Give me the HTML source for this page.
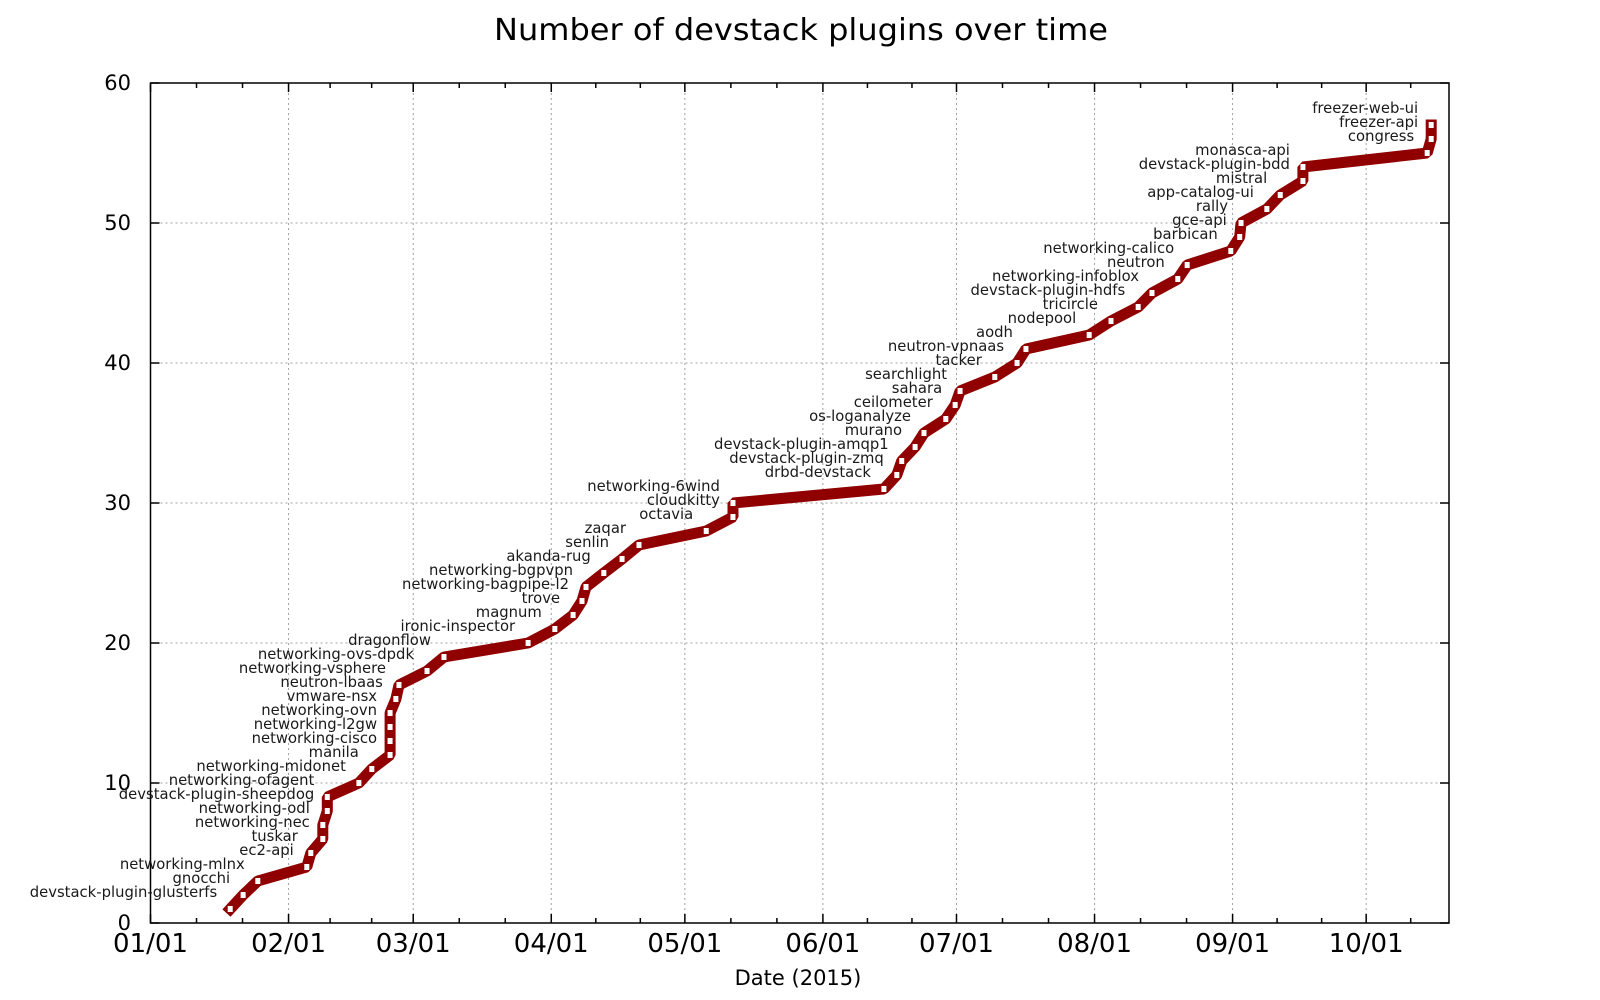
<!DOCTYPE html>
<html><head><meta charset="utf-8"><style>
html,body{margin:0;padding:0;background:#fff;}
svg{display:block;font-family:"DejaVu Sans","Liberation Sans",sans-serif;}
</style></head><body>
<svg id="chart" width="1600" height="1000" viewBox="0 0 1600 1000" xmlns="http://www.w3.org/2000/svg">
<rect width="1600" height="1000" fill="#fff"/>
<text x="801" y="40" font-size="30" text-anchor="middle" textLength="614" lengthAdjust="spacingAndGlyphs">Number of devstack plugins over time</text>
<g id="grid"></g><g id="axes"></g><g id="series"></g><g id="labels"></g>
<text x="798" y="985" font-size="21" text-anchor="middle">Date (2015)</text>
</svg>
<script>
const plugins = ["devstack-plugin-glusterfs","gnocchi","networking-mlnx","ec2-api","tuskar","networking-nec","networking-odl","devstack-plugin-sheepdog","networking-ofagent","networking-midonet","manila","networking-cisco","networking-l2gw","networking-ovn","vmware-nsx","neutron-lbaas","networking-vsphere","networking-ovs-dpdk","dragonflow","ironic-inspector","magnum","trove","networking-bagpipe-l2","networking-bgpvpn","akanda-rug","senlin","zaqar","octavia","cloudkitty","networking-6wind","drbd-devstack","devstack-plugin-zmq","devstack-plugin-amqp1","murano","os-loganalyze","ceilometer","sahara","searchlight","tacker","neutron-vpnaas","aodh","nodepool","tricircle","devstack-plugin-hdfs","networking-infoblox","neutron","networking-calico","barbican","gce-api","rally","app-catalog-ui","mistral","devstack-plugin-bdd","monasca-api","congress","freezer-api","freezer-web-ui"];
const addedDay = [17.9,20.8,24.1,35.1,36.0,38.7,38.7,39.7,39.7,46.8,49.7,53.8,53.8,53.8,53.8,55.1,55.8,62.1,65.9,84.8,90.8,94.9,96.9,97.8,101.8,105.9,109.7,124.8,130.8,130.8,164.7,167.6,168.7,171.7,173.7,178.6,180.7,181.8,189.6,194.6,196.6,210.8,215.7,221.8,224.9,230.7,232.8,242.6,244.6,244.9,250.7,253.7,258.8,258.8,286.7,287.6,287.6];
const monthLabels = ["01/01","02/01","03/01","04/01","05/01","06/01","07/01","08/01","09/01","10/01"];
const monthDays = [0,31,59,90,120,151,181,212,243,273];
const yTicks = [0,10,20,30,40,50,60];

const NS="http://www.w3.org/2000/svg";
const L=150.5,R=1449,T=83,B=923;
const X=d=>L+4.453*d;
const Y=v=>B-14*v;
function mk(tag,attrs,parent){const e=document.createElementNS(NS,tag);for(const k in attrs)e.setAttribute(k,attrs[k]);parent.appendChild(e);return e;}
const grid=document.getElementById('grid'),axes=document.getElementById('axes'),series=document.getElementById('series'),labels=document.getElementById('labels');

yTicks.forEach(v=>{
  const y=Y(v);
  if(v>0&&v<60){const g=mk('line',{x1:L,x2:R,y1:y,y2:y,stroke:'#a0a0a0','stroke-width':1,'stroke-dasharray':'2,3'},grid);
  
  }
  mk('line',{x1:L,x2:L+9,y1:y,y2:y,stroke:'#000','stroke-width':1.5},axes);
  mk('line',{x1:R-9,x2:R,y1:y,y2:y,stroke:'#000','stroke-width':1.5},axes);
  const t=mk('text',{x:131,y:y+7,'font-size':21,'text-anchor':'end'},axes);
  t.textContent=v;
  
  
});
monthDays.forEach((d,i)=>{
  const x=X(d);
  if(i>0){const g=mk('line',{x1:x,x2:x,y1:T,y2:B,stroke:'#a0a0a0','stroke-width':1,'stroke-dasharray':'2,3'},grid);
  
  }
  mk('line',{x1:x,x2:x,y1:B,y2:B-9,stroke:'#000','stroke-width':1.5},axes);
  mk('line',{x1:x,x2:x,y1:T,y2:T+9,stroke:'#000','stroke-width':1.5},axes);
  const next=i+1<monthDays.length?monthDays[i+1]:303;
  [1,2].forEach(k=>{const dd=d+(next-d)*k/3;const xm=X(dd);if(xm<R-2){
    mk('line',{x1:xm,x2:xm,y1:B,y2:B-5,stroke:'#000','stroke-width':1.5},axes);
    mk('line',{x1:xm,x2:xm,y1:T,y2:T+5,stroke:'#000','stroke-width':1.5},axes);}});
  const t=mk('text',{x:x,y:952,'font-size':26,'text-anchor':'middle'},axes);
  t.textContent=monthLabels[i];
  
  
});
const frame=mk('rect',{x:L,y:T,width:R-L,height:B-T,fill:'none',stroke:'#000','stroke-width':1.5},axes);



const pts=addedDay.map((d,i)=>X(d).toFixed(1)+','+Y(i+1).toFixed(1)).join(' ');
const line=mk('polyline',{points:pts,fill:'none',stroke:'#900000','stroke-width':11,'stroke-linejoin':'bevel','stroke-linecap':'square'},series);


addedDay.forEach((d,i)=>{
  const x=X(d),y=Y(i+1);
  const p=mk('rect',{x:x-2.5,y:y-3,width:5,height:6,fill:'#fff'},series);
  
  
  const t=mk('text',{x:x-13,y:y-12,'font-size':14.8,'text-anchor':'end',fill:'#1a1a1a'},labels);
  t.textContent=plugins[i];
  
  
});
</script>
</body></html>
